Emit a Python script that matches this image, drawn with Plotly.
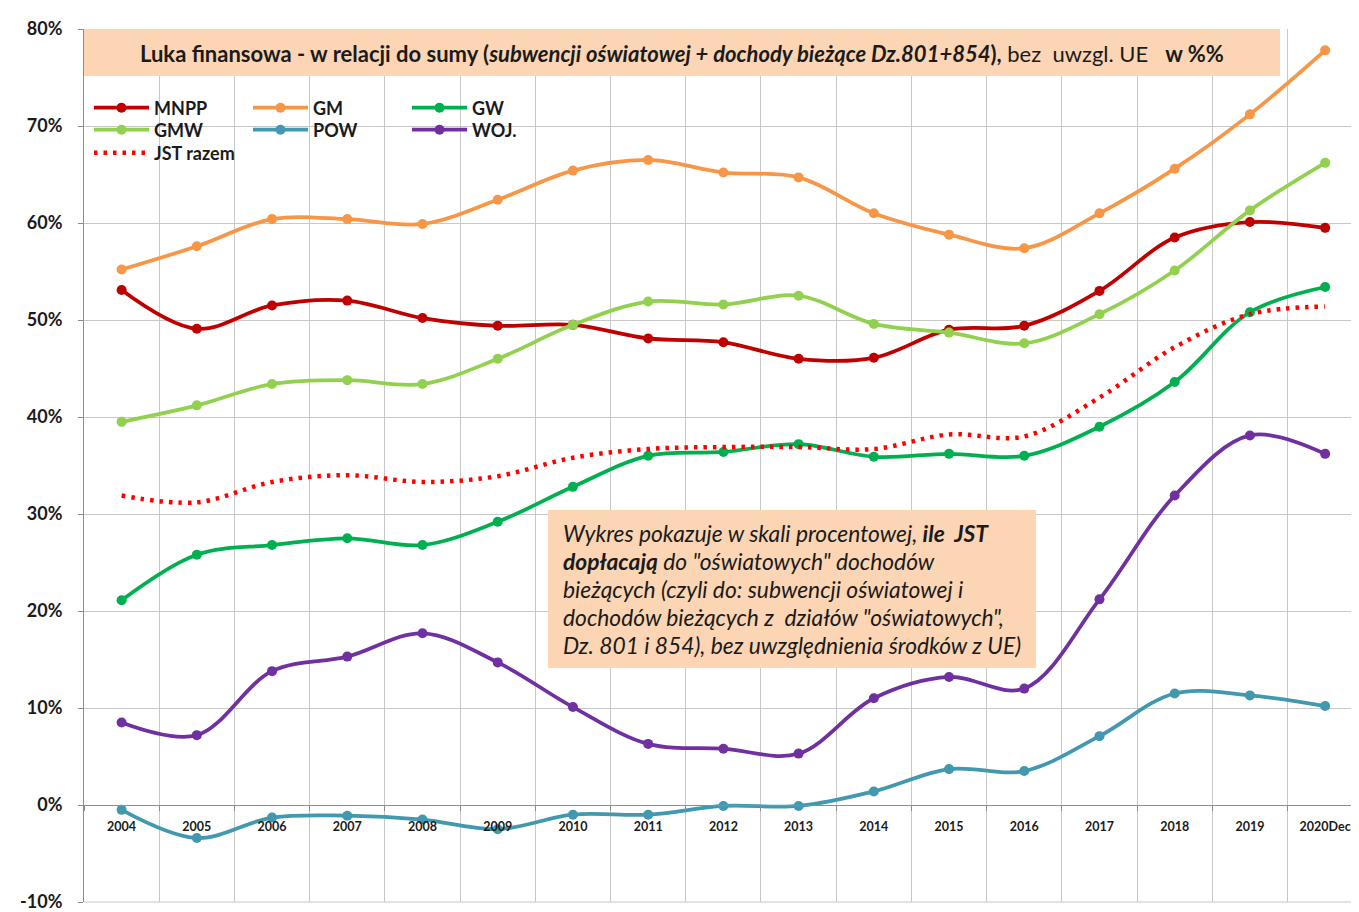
import plotly.graph_objects as go

categories = ["2004", "2005", "2006", "2007", "2008", "2009", "2010", "2011", "2012",
              "2013", "2014", "2015", "2016", "2017", "2018", "2019", "2020Dec"]

mnpp = [53.1, 49.1, 51.5, 52.0, 50.2, 49.4, 49.5, 48.1, 47.7, 46.0, 46.1, 49.0, 49.4, 53.0, 58.5, 60.1, 59.5]
gm = [55.2, 57.6, 60.4, 60.4, 59.9, 62.4, 65.4, 66.5, 65.2, 64.7, 61.0, 58.8, 57.4, 61.0, 65.6, 71.2, 77.8]
gw = [21.1, 25.8, 26.8, 27.5, 26.8, 29.2, 32.8, 36.0, 36.4, 37.2, 35.9, 36.2, 36.0, 39.0, 43.6, 50.8, 53.4]
gmw = [39.5, 41.2, 43.4, 43.8, 43.4, 46.0, 49.5, 51.9, 51.6, 52.5, 49.6, 48.7, 47.6, 50.6, 55.1, 61.3, 66.2]
pow_ = [-0.5, -3.4, -1.3, -1.1, -1.5, -2.5, -1.0, -1.0, -0.1, -0.1, 1.4, 3.7, 3.5, 7.1, 11.5, 11.3, 10.2]
woj = [8.5, 7.2, 13.8, 15.3, 17.7, 14.7, 10.1, 6.3, 5.8, 5.3, 11.0, 13.2, 12.0, 21.2, 31.9, 38.1, 36.2]
jst = [31.9, 31.2, 33.3, 34.0, 33.3, 33.9, 35.8, 36.7, 36.9, 36.9, 36.7, 38.2, 38.0, 42.0, 47.2, 50.6, 51.4]

y_ticks = [-10, 0, 10, 20, 30, 40, 50, 60, 70, 80]

# the page body has an 8px margin, so the figure is a bit smaller and shifted
OFF = 8
W_FIG, H_FIG = 1359 - OFF, 912 - OFF
L, T = 84, 29          # plot area origin in page pixels
PW = 1275
PH = 873


def fx(px):
    return (px - L) / PW


def fy(py):
    return (T + PH - py) / PH


FONT = "Lato"
TXT = "#1b1b1b"

fig = go.Figure()

series = [
    ("MNPP", mnpp, "#c00000", "legend"),
    ("GM", gm, "#f79646", "legend"),
    ("GW", gw, "#00b050", "legend"),
    ("GMW", gmw, "#92d050", "legend2"),
    ("POW", pow_, "#4198af", "legend2"),
    ("WOJ.", woj, "#7030a0", "legend2"),
]
for name, vals, col, lg in series:
    fig.add_trace(go.Scatter(
        x=categories, y=vals, name=name, mode="lines+markers",
        line=dict(color=col, width=3.75, shape="spline", smoothing=1.0),
        marker=dict(color=col, size=10),
        legend=lg,
    ))

fig.add_trace(go.Scatter(
    x=categories, y=jst, name="JST razem", mode="lines",
    line=dict(color="#ff0000", width=4.5, dash="3.5px,6px", shape="spline", smoothing=1.0),
    legend="legend3",
))

legend_common = dict(
    orientation="h", xanchor="left", yanchor="middle",
    entrywidth=89, entrywidthmode="pixels", itemwidth=55,
    font=dict(family=FONT, size=18, color=TXT, weight="bold"),
    bgcolor="rgba(0,0,0,0)", tracegroupgap=0, itemclick=False,
)

shapes = [
    # bottom gridline at -10%
    dict(type="line", xref="paper", yref="paper", x0=0, x1=1, y0=fy(902), y1=fy(902),
         line=dict(color="#c8c8c8", width=1), layer="below"),
    # title box
    dict(type="rect", xref="paper", yref="paper", x0=fx(84), x1=fx(1280), y0=fy(76), y1=fy(29),
         fillcolor="#fcd5b4", line=dict(width=0)),
    # note box
    dict(type="rect", xref="paper", yref="paper", x0=fx(548), x1=fx(1036), y0=fy(668), y1=fy(510),
         fillcolor="#fcd5b4", line=dict(width=0)),
]

annotations = [
    dict(xref="paper", yref="paper", x=fx(682), y=fy(53), xanchor="center", yanchor="middle",
         showarrow=False,
         text=("<b>Luka finansowa - w relacji do sumy (<i>subwencji oświatowej + dochody bieżące "
               "Dz.801+854</i>),</b> bez&nbsp; uwzgl. UE &nbsp; <b>w %%</b>"),
         font=dict(family=FONT, size=22, color=TXT)),
]

note_lines = [
    "<i>Wykres pokazuje w skali procentowej, <b>ile&nbsp; JST</b></i>",
    "<i><b>dopłacają</b> do \"oświatowych\" dochodów</i>",
    "<i>bieżących (czyli do: subwencji oświatowej i</i>",
    "<i>dochodów bieżących z&nbsp; działów \"oświatowych\",</i>",
    "<i>Dz. 801 i 854), bez uwzględnienia środków z UE)</i>",
]
for i, ln in enumerate(note_lines):
    annotations.append(dict(
        xref="paper", yref="paper", x=fx(561), y=fy(533 + 28 * i), xanchor="left", yanchor="middle",
        showarrow=False, text=ln, align="left",
        font=dict(family=FONT, size=22.8, color=TXT)))

fig.update_layout(
    width=W_FIG, height=H_FIG,
    margin=dict(l=L - OFF, r=W_FIG - (L - OFF) - PW, t=T - OFF, b=H_FIG - (T - OFF) - PH,
                autoexpand=False),
    paper_bgcolor="white", plot_bgcolor="white",
    showlegend=True,
    legend=dict(x=fx(89), y=fy(108), **legend_common),
    legend2=dict(x=fx(89), y=fy(130), **legend_common),
    legend3=dict(x=fx(89), y=fy(153), **legend_common),
    shapes=shapes, annotations=annotations,
    xaxis=dict(
        type="category", categoryorder="array", categoryarray=categories,
        range=[-0.5, 16.45], tickson="boundaries",
        showgrid=True, gridcolor="#c8c8c8", gridwidth=1,
        anchor="free", position=10 / 90,
        showline=True, linecolor="#8c8c8c", linewidth=1,
        ticks="outside", ticklen=5, tickcolor="#8c8c8c",
        ticklabelstandoff=10,
        tickfont=dict(family=FONT, size=12.5, color=TXT, weight="bold"),
        fixedrange=True,
    ),
    yaxis=dict(
        range=[-10, 80], tickvals=y_ticks, ticktext=[f"{v}%" for v in y_ticks],
        showgrid=True, gridcolor="#c8c8c8", gridwidth=1,
        zeroline=False,
        showline=True, linecolor="#8c8c8c", linewidth=1,
        ticks="outside", ticklen=5, tickcolor="#8c8c8c",
        ticklabelstandoff=12, ticklabeloverflow="allow",
        tickfont=dict(family=FONT, size=18, color=TXT, weight="bold"),
        fixedrange=True,
    ),
)

fig.write_html("out.html")
